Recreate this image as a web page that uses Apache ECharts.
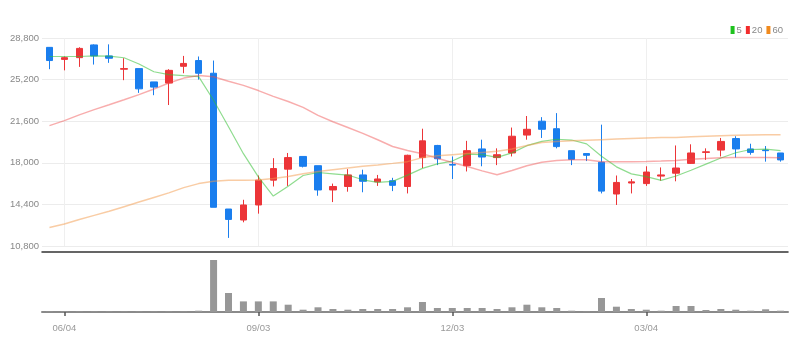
<!DOCTYPE html>
<html>
<head>
<meta charset="utf-8">
<script src="https://cdn.jsdelivr.net/npm/echarts@6/dist/echarts.min.js"></script>
<style>
html,body{margin:0;padding:0;background:#fff;}
#chart{width:805px;height:351px;}
</style>
</head>
<body>
<div id="chart"></div>
<script>
const dates = ['05/28','06/04','06/11','06/18','06/25','07/02','07/09','07/16','07/23','07/30',
  '08/06','08/13','08/20','08/27','09/03','09/10','09/17','09/24','10/01','10/08',
  '10/15','10/22','10/29','11/05','11/12','11/19','11/26','12/03','12/10','12/17',
  '12/24','12/31','01/07','01/14','01/21','01/28','02/04','02/11','02/18','02/25',
  '03/04','03/11','03/18','03/25','04/01','04/08','04/15','04/22','04/29','05/06'];

const opens  = [27990,26950,27100,28200,27250,26100,26150,25000,24900,26350,
  26850,25750,14000,13050,14350,16500,17450,18550,17750,15650,
  15950,16950,16350,16450,15950,18450,19500,17850,17750,19200,
  18450,18850,20400,21600,20950,19050,18800,18050,15300,16250,
  16200,16850,17100,17950,18900,19100,20100,19200,19100,18850];
const closes = [26850,27100,27900,27250,27050,26150,24400,24550,26000,26600,
  25750,14150,13100,14350,16500,17500,18450,17700,15650,15950,
  16950,16400,16600,16050,18650,19900,18350,17800,19050,18500,
  18700,20300,20900,20900,19400,18300,18650,15550,16300,16350,
  17200,16950,17550,18850,18950,19850,19200,18900,19050,18250];
const lows   = [26100,26000,26300,26500,26650,25150,24050,23850,23000,25750,
  25200,14150,11500,12850,13600,15950,16000,17600,15150,14600,
  15500,15450,16000,15550,15350,17550,17800,16600,17250,17700,
  17800,18550,20000,20150,19250,17800,18150,15350,14350,15350,
  16000,16450,16400,17900,18250,18550,18450,18700,18100,18100];
const highs  = [28000,27200,28000,28250,28250,27050,26150,25000,26100,27250,
  27200,26850,14000,14800,16900,18400,18850,18550,17750,16200,
  17450,17400,16950,16700,18700,20950,19550,18550,19900,20000,
  19250,21050,22050,21950,22300,19050,18800,21300,16900,16600,
  17700,17600,19500,19600,19250,20150,20300,19650,19450,18850];

const ma5  = [27200,27200,27200,27250,27230,27090,26550,25880,25630,25540,
  25460,23410,21120,18790,16780,15120,15980,16900,17160,17050,
  16940,16530,16310,16390,16930,17520,17910,18150,18750,18710,
  18470,18860,19480,19860,20040,19970,19640,18570,17650,17040,
  16810,16480,16860,17360,17890,18420,18870,19150,19190,19050];
const ma20 = [21220,21650,22150,22600,23020,23450,23900,24380,24900,25330,
  25560,25450,25050,24700,24250,23750,23300,22800,22100,21550,
  21050,20550,19990,19410,19070,18780,18400,18030,17680,17300,
  16960,17330,17740,18050,18200,18260,18260,18100,18100,18100,
  18120,18150,18200,18300,18380,18430,18450,18450,18450,18430];
const ma60 = [12400,12700,13100,13450,13800,14200,14600,15000,15400,15850,
  16200,16400,16500,16500,16520,16650,16810,17050,17250,17400,
  17550,17700,17820,17950,18100,18450,18600,18700,18800,18900,
  19000,19200,19500,19750,19850,19900,19950,20000,20050,20100,
  20150,20200,20200,20250,20300,20350,20380,20400,20420,20430];
const volumes = [40,40,40,40,40,40,40,40,40,40,
  130,5200,1900,1060,1060,1060,730,230,470,300,
  230,300,300,300,470,1000,400,400,400,400,
  300,470,730,470,400,130,40,1400,530,300,
  230,130,600,600,200,300,230,130,270,130];

const yTicks = [10800, 14400, 18000, 21600, 25200, 28800];
const legendNames = ['5', '20', '60'];

const candleData = dates.map((d, i) => [opens[i], closes[i], lows[i], highs[i]]);
const FONT = '"Liberation Sans Narrow", "Liberation Sans", sans-serif';
const labelEvery = (i) => (i - 1) % 13 === 0;
const fmt = (v) => String(v).replace(/\B(?=(\d{3})+(?!\d))/g, ',');

const chart = echarts.init(document.getElementById('chart'), null, {renderer: 'canvas'});
chart.setOption({
  animation: false,
  backgroundColor: '#fff',
  legend: {
    data: legendNames,
    right: 17, top: 20,
    icon: 'rect', itemWidth: 4, itemHeight: 8, itemGap: 4,
    textStyle: {color: '#888', fontSize: 9.5, fontFamily: FONT, padding: [0, 0, 0, -3]}
  },
  grid: [
    {left: 42, right: 17, top: 38, height: 208},
    {left: 42, right: 17, top: 252, height: 60}
  ],
  xAxis: [
    {type: 'category', gridIndex: 0, data: dates, boundaryGap: true,
     axisLine: {show: false}, axisTick: {show: false}, axisLabel: {show: false},
     splitLine: {show: true, interval: labelEvery, alignWithLabel: true, lineStyle: {color: '#efefef', width: 1}}},
    {type: 'category', gridIndex: 1, data: dates, boundaryGap: true, position: 'bottom',
     axisLine: {show: true, lineStyle: {color: '#8a8a8a', width: 2}},
     axisTick: {show: true, interval: labelEvery, alignWithLabel: true, length: 4, lineStyle: {color: '#555', width: 1.5}},
     axisLabel: {interval: labelEvery, color: '#999', fontSize: 9.5, fontFamily: FONT, margin: 11},
     splitLine: {show: false}},
    {type: 'category', gridIndex: 1, data: dates, boundaryGap: true, position: 'top',
     axisLine: {show: true, lineStyle: {color: '#333', width: 1.5}},
     axisTick: {show: false}, axisLabel: {show: false}, splitLine: {show: false}}
  ],
  yAxis: [
    {type: 'value', gridIndex: 0, min: yTicks[0], max: yTicks[yTicks.length - 1], interval: 3600,
     axisLine: {show: false}, axisTick: {show: false},
     axisLabel: {color: '#888', fontSize: 9.5, fontFamily: FONT, margin: 3, formatter: fmt},
     splitLine: {show: true, lineStyle: {color: '#ececec', width: 1}}},
    {type: 'value', gridIndex: 1, min: 0, max: 6000,
     axisLine: {show: false}, axisTick: {show: false}, axisLabel: {show: false}, splitLine: {show: false}}
  ],
  series: [
    {type: 'candlestick', name: 'k', xAxisIndex: 0, yAxisIndex: 0, data: candleData, barWidth: 7,
     itemStyle: {color: '#ec3538', color0: '#1a7eee', borderColor: '#ec3538', borderColor0: '#1a7eee', borderWidth: 1}},
    {type: 'line', name: '5', xAxisIndex: 0, yAxisIndex: 0, data: ma5, showSymbol: false,
     itemStyle: {color: '#1ec21e'}, lineStyle: {color: '#33c033', width: 1.2, opacity: 0.55}},
    {type: 'line', name: '20', xAxisIndex: 0, yAxisIndex: 0, data: ma20, showSymbol: false,
     itemStyle: {color: '#f22c2c'}, lineStyle: {color: '#f04a4a', width: 1.5, opacity: 0.45}},
    {type: 'line', name: '60', xAxisIndex: 0, yAxisIndex: 0, data: ma60, showSymbol: false,
     itemStyle: {color: '#f08a1e'}, lineStyle: {color: '#f39a4a', width: 1.5, opacity: 0.5}},
    {type: 'bar', name: 'vol', xAxisIndex: 1, yAxisIndex: 1, data: volumes, barWidth: 7,
     itemStyle: {color: '#979797'}}
  ]
});
</script>
</body>
</html>
